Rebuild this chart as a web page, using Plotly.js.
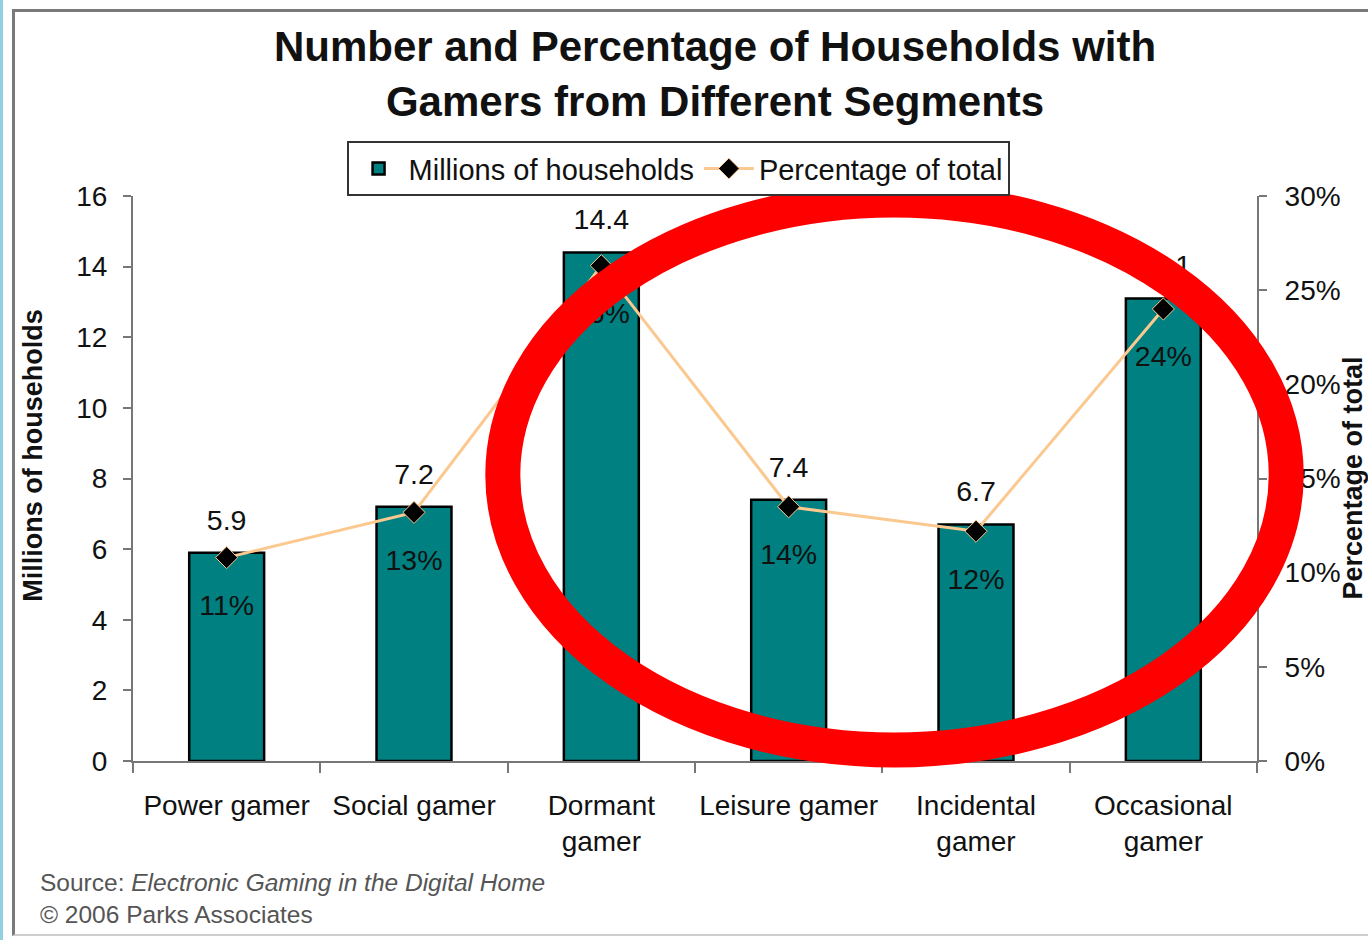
<!DOCTYPE html>
<html>
<head>
<meta charset="utf-8">
<script src="https://cdn.plot.ly/plotly-3.0.1.min.js"></script>
<style>
  html, body { margin: 0; padding: 0; background: #ffffff; }
  #wrap { position: relative; width: 1368px; height: 940px; overflow: hidden; }
  #chart { position: absolute; left: 0; top: 0; width: 1368px; height: 940px; }
  #strip { position: absolute; left: 0; top: 0; width: 3px; height: 940px; background: #8fd0e3; }
  #frame { position: absolute; left: 12px; top: 9px; width: 1370px; height: 927px;
           border-left: 3px solid #7a7a7a; border-top: 3px solid #7a7a7a; border-bottom: 2px solid #cfcfcf;
           pointer-events: none; box-sizing: border-box; }
</style>
</head>
<body>
<div id="wrap">
  <div id="chart"></div>
  <div id="strip"></div>
  <div id="frame"></div>
</div>
<script>
// ---- data ----
const categories = ["Power gamer", "Social gamer", "Dormant<br>gamer", "Leisure gamer", "Incidental<br>gamer", "Occasional<br>gamer"];
const households = [5.9, 7.2, 14.4, 7.4, 6.7, 13.1];          // millions
const percentOfTotal = [10.8, 13.2, 26.3, 13.5, 12.2, 24.0];   // percent
const yTicks = [0, 2, 4, 6, 8, 10, 12, 14, 16];
const y2Ticks = [0, 5, 10, 15, 20, 25, 30];

const FONT = "Liberation Sans, Arial, Helvetica, sans-serif";
const pctFrac = percentOfTotal.map(v => v / 100);

const traces = [
  {
    type: "bar", name: "Millions of households",
    x: categories, y: households,
    marker: { color: "#008080", line: { color: "#000000", width: 2.5 } },
    width: 0.4, hoverinfo: "skip"
  },
  {
    type: "scatter", mode: "lines+markers", name: "Percentage of total",
    x: categories, y: pctFrac, yaxis: "y2",
    line: { color: "#FBC98F", width: 3 },
    marker: { symbol: "diamond", size: 17, color: "#000000", line: { color: "#FBC98F", width: 1 } },
    hoverinfo: "skip"
  },
  {
    type: "scatter", mode: "markers+text", showlegend: false,
    x: categories, y: households,
    text: households.map(v => v.toFixed(1)),
    textposition: "top center",
    textfont: { family: FONT, size: 28.5, color: "#111111" },
    marker: { size: 24, opacity: 0 }, cliponaxis: false, hoverinfo: "skip"
  },
  {
    type: "scatter", mode: "markers+text", showlegend: false,
    x: categories, y: pctFrac, yaxis: "y2",
    text: percentOfTotal.map(v => Math.round(v) + "%"),
    textposition: "bottom center",
    textfont: { family: FONT, size: 28.5, color: "#111111" },
    marker: { size: 56, opacity: 0 }, cliponaxis: false, hoverinfo: "skip"
  }
];

const layout = {
  width: 1368, height: 940,
  margin: { l: 133, r: 111, t: 196, b: 179, pad: 0 },
  paper_bgcolor: "#ffffff", plot_bgcolor: "#ffffff",
  font: { family: FONT, size: 28, color: "#111111" },
  hovermode: false,
  showlegend: true,
  title: {
    text: "<b>Number and Percentage of Households with<br>Gamers from Different Segments</b>",
    font: { family: FONT, size: 42, color: "#111111" },
    x: 0.5227, xanchor: "center", xref: "container",
    y: 0.935, yanchor: "top", yref: "container"
  },
  bargap: 0.6,
  xaxis: {
    type: "category", tickson: "boundaries",
    ticks: "outside", ticklen: 10, tickwidth: 2, tickcolor: "#777777",
    showline: true, linecolor: "#777777", linewidth: 2,
    showgrid: false, zeroline: false,
    tickangle: 0, automargin: false,
    tickfont: { family: FONT, size: 28, color: "#111111" },
    ticklabelstandoff: 18,
    range: [-0.5, 5.5]
  },
  yaxis: {
    range: [0, 16], tickvals: yTicks, ticktext: yTicks.map(String),
    ticks: "outside", ticklen: 8, tickwidth: 2, tickcolor: "#777777",
    showline: true, linecolor: "#777777", linewidth: 2,
    showgrid: false, zeroline: false,
    tickfont: { family: FONT, size: 28, color: "#111111" },
    ticklabelstandoff: 10
  },
  yaxis2: {
    overlaying: "y", side: "right",
    range: [0, 0.30], tickvals: y2Ticks.map(v => v / 100), ticktext: y2Ticks.map(v => v + "%"),
    ticks: "outside", ticklen: 8, tickwidth: 2, tickcolor: "#777777",
    showline: true, linecolor: "#777777", linewidth: 2,
    showgrid: false, zeroline: false,
    tickfont: { family: FONT, size: 28, color: "#111111" },
    ticklabelstandoff: 12
  },
  legend: {
    orientation: "h", x: 0.19, xanchor: "left", y: 1.097, yanchor: "top",
    bgcolor: "#ffffff", bordercolor: "#333333", borderwidth: 2,
    font: { family: FONT, size: 29, color: "#111111" },
    itemwidth: 50,
    traceorder: "normal"
  },
  annotations: [
    {
      text: "<b>Millions of households</b>", textangle: -90,
      xref: "paper", yref: "paper", x: -0.089, y: 0.542, xanchor: "center", yanchor: "middle",
      showarrow: false, font: { family: FONT, size: 27, color: "#111111" }
    },
    {
      text: "<b>Percentage of total</b>", textangle: -90,
      xref: "paper", yref: "paper", x: 1.085, y: 0.501, xanchor: "center", yanchor: "middle",
      showarrow: false, font: { family: FONT, size: 27, color: "#111111" }
    },
    {
      text: "Source: <i>Electronic Gaming in the Digital Home</i><br>© 2006 Parks Associates",
      xref: "paper", yref: "paper", x: -0.0845, y: -0.244, xanchor: "left", yanchor: "middle",
      align: "left", showarrow: false, font: { family: FONT, size: 24.5, color: "#555555" }
    }
  ],
  shapes: [
    {
      type: "circle", xref: "paper", yref: "paper", layer: "above",
      x0: 0.329, x1: 1.026, y0: 0.0195, y1: 0.993,
      line: { color: "#ff0000", width: 35 }, fillcolor: "rgba(0,0,0,0)"
    }
  ]
};

Plotly.newPlot("chart", traces, layout, { staticPlot: true, displayModeBar: false });
</script>
</body>
</html>
